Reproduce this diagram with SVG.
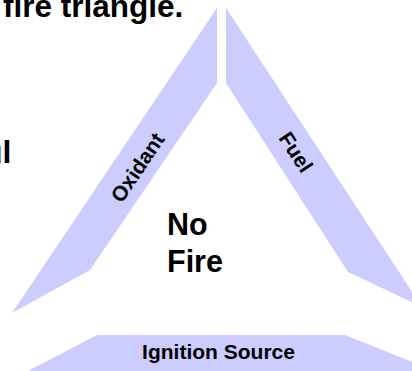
<svg xmlns="http://www.w3.org/2000/svg" width="412" height="371" viewBox="0 0 412 371">
  <style>
    .side { fill: #CCCCFF; stroke: none; }
    .lbl { font-family: "Liberation Sans", Arial, sans-serif; font-weight: bold; fill: #000; }
  </style>
  <rect width="412" height="371" fill="#FFFFFF"/>
  <g id="title">
    <text class="lbl" x="3" y="17" font-size="31.5">fire triangle.</text>
    <text class="lbl" x="11.5" y="163" font-size="32" text-anchor="end">ul</text>
  </g>
  <g id="oxidant">
    <polygon class="side" points="217,8 217,83 90,270 12,313"/>
    <text class="lbl" font-size="21" text-anchor="middle" dy="0.35em" transform="translate(137.5,167.5) rotate(-56)">Oxidant</text>
  </g>
  <g id="fuel">
    <polygon class="side" points="226,8 422,307 348,272 226,83"/>
    <text class="lbl" font-size="21" text-anchor="middle" dy="0.35em" transform="translate(296,152) rotate(57)">Fuel</text>
  </g>
  <g id="ignition">
    <polygon class="side" points="97,335 345,335 435,371 28,371"/>
    <text class="lbl" x="218.5" y="359" font-size="21" text-anchor="middle">Ignition Source</text>
  </g>
  <g id="center">
    <text class="lbl" x="167" y="235" font-size="30.5">No</text>
    <text class="lbl" x="167" y="272" font-size="30.5">Fire</text>
  </g>
</svg>
